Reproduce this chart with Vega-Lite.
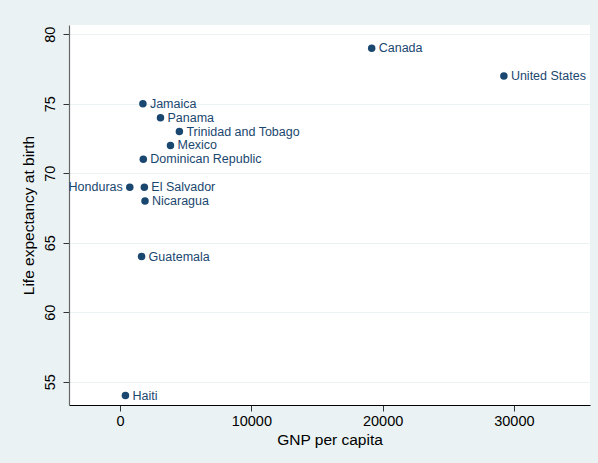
{
  "$schema": "https://vega.github.io/schema/vega-lite/v6.json",
  "width": 521,
  "height": 380,
  "autosize": {"type": "none"},
  "padding": {"left": 69, "top": 25, "right": 8, "bottom": 58},
  "background": "#eaf2f3",
  "config": {
    "view": {"fill": "white", "stroke": null},
    "font": "Liberation Sans"
  },
  "data": {
    "values": [
      {"country": "Canada", "gnppc": 19170, "lexp": 79, "side": "right"},
      {"country": "United States", "gnppc": 29240, "lexp": 77, "side": "right"},
      {"country": "Jamaica", "gnppc": 1740, "lexp": 75, "side": "right"},
      {"country": "Panama", "gnppc": 3080, "lexp": 74, "side": "right"},
      {"country": "Trinidad and Tobago", "gnppc": 4520, "lexp": 73, "side": "right"},
      {"country": "Mexico", "gnppc": 3840, "lexp": 72, "side": "right"},
      {"country": "Dominican Republic", "gnppc": 1770, "lexp": 71, "side": "right"},
      {"country": "Honduras", "gnppc": 740, "lexp": 69, "side": "left"},
      {"country": "El Salvador", "gnppc": 1850, "lexp": 69, "side": "right"},
      {"country": "Nicaragua", "gnppc": 1900, "lexp": 68, "side": "right"},
      {"country": "Guatemala", "gnppc": 1640, "lexp": 64, "side": "right"},
      {"country": "Haiti", "gnppc": 410, "lexp": 54, "side": "right"}
    ]
  },
  "encoding": {
    "x": {
      "field": "gnppc", "type": "quantitative",
      "scale": {"domain": [-3890, 35800], "nice": false, "zero": false},
      "axis": {
        "title": "GNP per capita", "values": [0, 10000, 20000, 30000], "format": "d",
        "grid": false, "domainColor": "#000000", "domainWidth": 1.2,
        "tickColor": "#333333", "tickSize": 6, "labelPadding": 3,
        "labelFontSize": 14.5, "labelColor": "#000000", "titleFontSize": 15.5,
        "titleFontWeight": "normal", "titleColor": "#000000", "titlePadding": 5
      }
    },
    "y": {
      "field": "lexp", "type": "quantitative",
      "scale": {"domain": [53.32, 80.67], "nice": false, "zero": false},
      "axis": {
        "title": "Life expectancy at birth", "values": [55, 60, 65, 70, 75, 80],
        "grid": true, "gridColor": "#eaf2f3", "gridWidth": 1.2,
        "domainColor": "#666666", "domainWidth": 1.2,
        "tickColor": "#333333", "tickSize": 6, "labelPadding": 9,
        "labelAngle": 270, "labelAlign": "center", "labelBaseline": "alphabetic",
        "labelFontSize": 14.5, "labelColor": "#000000", "titleFontSize": 15.5,
        "titleFontWeight": "normal", "titleColor": "#000000", "titlePadding": 6
      }
    }
  },
  "layer": [
    {
      "mark": {"type": "circle", "size": 56, "opacity": 1, "color": "#1a476f"}
    },
    {
      "transform": [{"filter": "datum.side == 'right'"}],
      "mark": {"type": "text", "align": "left", "baseline": "middle", "dx": 7, "fontSize": 12.5, "color": "#1a476f"},
      "encoding": {"text": {"field": "country"}}
    },
    {
      "transform": [{"filter": "datum.side == 'left'"}],
      "mark": {"type": "text", "align": "right", "baseline": "middle", "dx": -7, "fontSize": 12.5, "color": "#1a476f"},
      "encoding": {"text": {"field": "country"}}
    }
  ]
}
